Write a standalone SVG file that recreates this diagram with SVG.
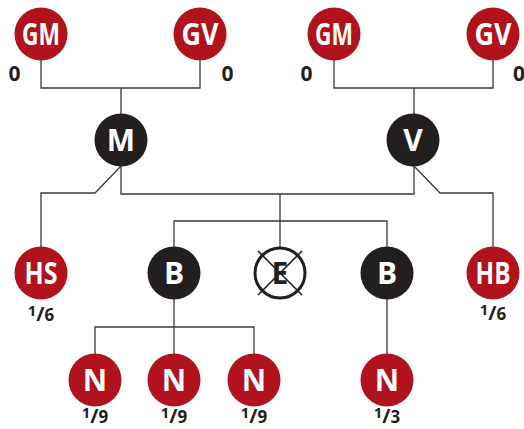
<svg xmlns="http://www.w3.org/2000/svg" width="524" height="429" viewBox="0 0 524 429">
<style>
.red{fill:#b0131c}
.blk{fill:#231f20}
.t{font-family:"Open Sans","Noto Sans",sans-serif;font-weight:bold;fill:#fff;text-anchor:middle;font-size:30px}
.z{font-family:"Open Sans","Noto Sans",sans-serif;font-weight:bold;fill:#231f20;text-anchor:middle;font-size:21px}
.f{font-family:"Open Sans","Noto Sans",sans-serif;font-weight:bold;fill:#231f20;text-anchor:middle;font-size:17px}
.c{fill:none;stroke:#3a3a3a;stroke-width:1.3}
</style>
<rect width="524" height="429" fill="#fff"/>
<g id="connectors" class="c">
<path d="M41,60 V88 H200 V60 M121,88 V114"/>
<path d="M334,60 V88 H493 V60 M414,88 V114"/>
<path d="M121,166 V194 H414 V166"/>
<path d="M121,166 L95,193 H41 V247"/>
<path d="M414,166 L440,193 H493 V247"/>
<path d="M280,194 V247"/>
<path d="M174,247 V221 H387 V247"/>
<path d="M174,299 V354 M95,354 V327 H254 V354"/>
<path d="M387,299 V354"/>
</g>
<g id="gm1"><circle class="red" cx="41" cy="34" r="26.5"/><text class="t" x="41" y="45" textLength="38" lengthAdjust="spacingAndGlyphs">GM</text><text class="z" x="14.5" y="81">0</text></g>
<g id="gv1"><circle class="red" cx="200" cy="34" r="26.5"/><text class="t" x="200" y="45" textLength="37" lengthAdjust="spacingAndGlyphs">GV</text><text class="z" x="227.5" y="81">0</text></g>
<g id="gm2"><circle class="red" cx="334" cy="34" r="26.5"/><text class="t" x="334" y="45" textLength="38" lengthAdjust="spacingAndGlyphs">GM</text><text class="z" x="306.5" y="81">0</text></g>
<g id="gv2"><circle class="red" cx="493" cy="34" r="26.5"/><text class="t" x="493" y="45" textLength="37" lengthAdjust="spacingAndGlyphs">GV</text><text class="z" x="519" y="81">0</text></g>
<g id="m"><circle class="blk" cx="121" cy="140" r="26.5"/><text class="t" x="121" y="151">M</text></g>
<g id="v"><circle class="blk" cx="413" cy="140" r="26.5"/><text class="t" x="413" y="151">V</text></g>
<g id="hs"><circle class="red" cx="41" cy="273" r="26.5"/><text class="t" x="41" y="284" textLength="33" lengthAdjust="spacingAndGlyphs">HS</text><text class="f" x="41" y="321"><tspan font-size="15" dy="-5">1</tspan><tspan font-size="20" dy="5">/</tspan><tspan>6</tspan></text></g>
<g id="b1"><circle class="blk" cx="174" cy="273" r="26.5"/><text class="t" x="174" y="284">B</text></g>
<g id="e"><circle cx="280" cy="273" r="25" fill="#fff" stroke="#231f20" stroke-width="3"/><text class="t" x="280" y="284" style="fill:#231f20">E</text><path d="M258,251 L302,295 M302,251 L258,295" stroke="#231f20" stroke-width="1.6"/></g>
<g id="b2"><circle class="blk" cx="387" cy="273" r="26.5"/><text class="t" x="387" y="284">B</text></g>
<g id="hb"><circle class="red" cx="493" cy="273" r="26.5"/><text class="t" x="493" y="284" textLength="35" lengthAdjust="spacingAndGlyphs">HB</text><text class="f" x="493" y="320"><tspan font-size="15" dy="-5">1</tspan><tspan font-size="20" dy="5">/</tspan><tspan>6</tspan></text></g>
<g id="n1"><circle class="red" cx="95" cy="380" r="26.5"/><text class="t" x="95" y="391">N</text><text class="f" x="95" y="423"><tspan font-size="15" dy="-5">1</tspan><tspan font-size="20" dy="5">/</tspan><tspan>9</tspan></text></g>
<g id="n2"><circle class="red" cx="174" cy="380" r="26.5"/><text class="t" x="174" y="391">N</text><text class="f" x="174" y="423"><tspan font-size="15" dy="-5">1</tspan><tspan font-size="20" dy="5">/</tspan><tspan>9</tspan></text></g>
<g id="n3"><circle class="red" cx="254" cy="380" r="26.5"/><text class="t" x="254" y="391">N</text><text class="f" x="254" y="423"><tspan font-size="15" dy="-5">1</tspan><tspan font-size="20" dy="5">/</tspan><tspan>9</tspan></text></g>
<g id="n4"><circle class="red" cx="387" cy="380" r="26.5"/><text class="t" x="387" y="391">N</text><text class="f" x="387" y="423"><tspan font-size="15" dy="-5">1</tspan><tspan font-size="20" dy="5">/</tspan><tspan>3</tspan></text></g>
</svg>
